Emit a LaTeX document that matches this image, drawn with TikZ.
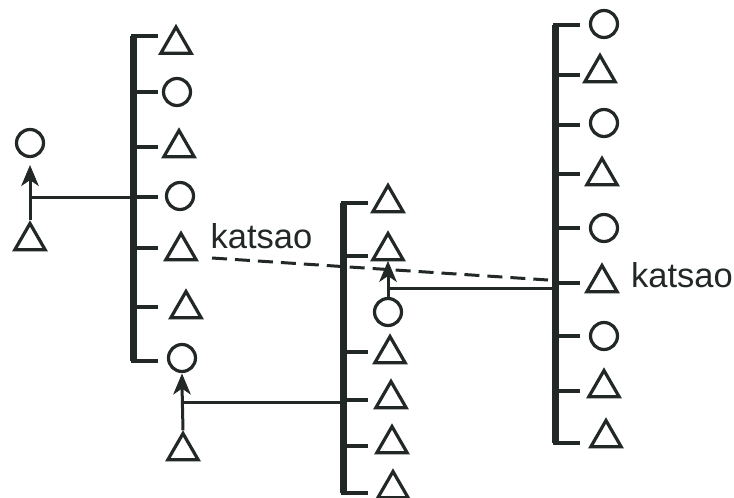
\documentclass[tikz,border=0pt]{standalone}
\usepackage{fontspec}
\setmainfont{Liberation Sans}
\usetikzlibrary{shapes.geometric,calc}
\definecolor{ink}{RGB}{34,40,38}
\tikzset{
  tri/.style={regular polygon, regular polygon sides=3, draw=ink, line width=3.2pt, minimum size=35pt, inner sep=0pt},
  circ/.style={circle, draw=ink, line width=3.2pt, minimum size=27pt, inner sep=0pt},
  bar/.style={draw=ink, line width=7pt},
  tick/.style={draw=ink, line width=4pt},
  conn/.style={draw=ink, line width=3pt},
  headfill/.style={fill=ink, draw=ink, line width=0.8pt, line join=miter},
  dashline/.style={draw=ink, line width=3pt, dash pattern=on 15pt off 8pt},
  lab/.style={anchor=base west, inner sep=0pt, text=ink, font=\fontsize{34.5}{40}\selectfont}}
\newcommand\myuphead[1]{\path[headfill] (#1) -- ++(-8,19) -- ++(8,-5.5) -- ++(8,5.5) -- cycle;}
\begin{document}
\begin{tikzpicture}[x=1pt,y=-1pt]
\useasboundingbox[fill=white] (0,0) rectangle (734,498);

% ---------- left sibling group ----------
\coordinate (Ltop) at (133,36);
\coordinate (Lbot) at (133,361);
\node[tri]  (L1) at (176,44.5) {};
\node[circ] (L2) at (177,92) {};
\node[tri]  (L3) at (179,148) {};
\node[circ] (L4) at (180,196) {};
\node[tri]  (L5) at (181,251) {};
\node[tri]  (L6) at (186,309) {};
\node[circ] (L7) at (182,358) {};
\draw[bar] (Ltop) -- (Lbot);
\foreach \y in {36,92,147,197,248,307,361}
  \draw[tick] (131,\y) -- (158,\y);

% ego pair at far left
\node[circ] (E1) at (30,143) {};
\node[tri]  (E2) at (30,241) {};
\coordinate (EH) at ($(E1.south)+(0,8)$);
\draw[conn] (E2.north) -- ($(EH)+(0,10)$);
\myuphead{EH}
\coordinate (EJ) at (30,197);
\draw[conn] (EJ) -- (Ltop |- EJ);

% ---------- middle sibling group ----------
\coordinate (Mtop) at (343,203);
\coordinate (Mbot) at (343,493);
\node[tri]  (M1) at (388,203) {};
\node[tri]  (M2) at (388,251) {};
\node[circ] (MC) at (388,312) {};
\node[tri]  (M3) at (390,354) {};
\node[tri]  (M4) at (391,399) {};
\node[tri]  (M5) at (392,444) {};
\node[tri]  (M6) at (393,489) {};
\draw[bar] (Mtop) -- (Mbot);
\foreach \y in {203,256,352,400,446,493}
  \draw[tick] (341,\y) -- (368,\y);

% lower pair (from left group)
\node[tri] (B1) at (183,451) {};
\coordinate (BH) at ($(L7.south)+(0,1.5)$);
\draw[conn] (B1.north) -- ($(BH)+(0,10)$);
\myuphead{BH}
\coordinate (BJ) at (182,402);
\draw[conn] (BJ) -- (Mtop |- BJ);

% ---------- right sibling group ----------
\coordinate (Rtop) at (555,25);
\coordinate (Rbot) at (555,443);
\node[circ] (R1) at (604,24) {};
\node[tri]  (R2) at (600,73) {};
\node[circ] (R3) at (604,123) {};
\node[tri]  (R4) at (602,176) {};
\node[circ] (R5) at (604,228) {};
\node[tri]  (R6) at (602,283) {};
\node[circ] (R7) at (604,336) {};
\node[tri]  (R8) at (604,388) {};
\node[tri]  (R9) at (606,438) {};
\draw[bar] (Rtop) -- (Rbot);
\foreach \y in {25,75,125,174,228,283,336,391,443}
  \draw[tick] (553,\y) -- (580,\y);

% middle pair arrow and line to right group
\coordinate (MH) at (388,262);
\draw[conn] (MC.north) -- ($(MH)+(0,10)$);
\myuphead{MH}
\coordinate (MJ) at (388,288);
\draw[conn] (MJ) -- (Rtop |- MJ);

% dashed katsao link
\coordinate (DA) at (212,258);
\coordinate (DB) at (548,280);
\draw[dashline] (DA) -- (DB);

% labels
\node[lab] (K1) at (210.5,248) {katsao};
\node[lab] (K2) at (631,287) {katsao};
\end{tikzpicture}
\end{document}
